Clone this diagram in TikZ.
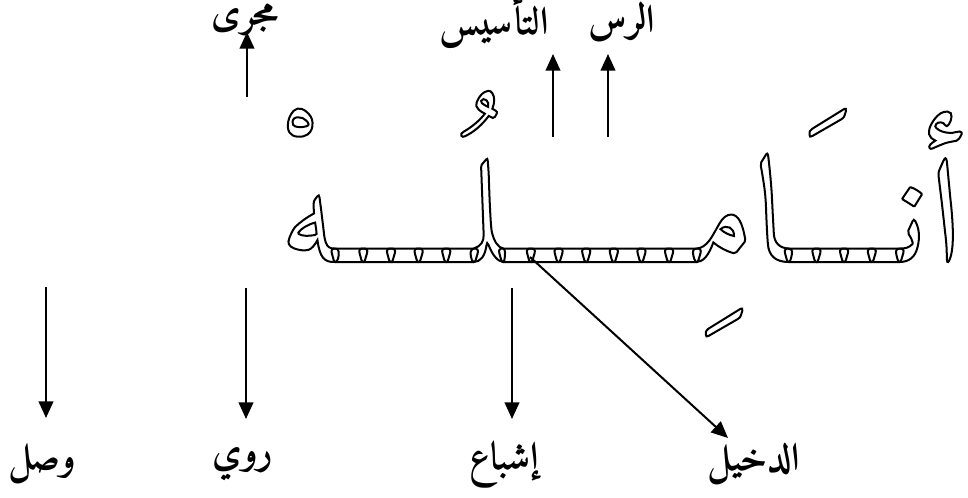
\documentclass[tikz,border=0pt]{standalone}
\usepackage{fontspec}
\usetikzlibrary{arrows.meta}
\TeXXeTstate=1
\newfontfamily\arabicbig[Script=Arabic]{Amiri-Regular.ttf}
\newfontfamily\arabiclabel[Script=Arabic]{Amiri-Bold.ttf}
% stroke glyph outlines instead of filling them
\newcommand\outlineon{\special{pdf:literal direct 1 Tr 1.5 w}}
\newcommand\outlineoff{\special{pdf:literal direct 0 Tr}}
% one kashida, kept as a separate glyph
\newcommand\kash{ـ^^^^200c}
\tikzset{
  termlabel/.style={inner sep=0pt, font=\arabiclabel\fontsize{29}{32}\selectfont},
  pointer/.style={line width=1.5pt, -{Triangle[length=12.5pt,width=11pt]}},
}
\begin{document}
\begin{tikzpicture}[x=0.75pt,y=-0.75pt]
\useasboundingbox (0,0) rectangle (968,497);

% the scanned word, drawn hollow
\node[inner sep=0pt, anchor=base east] (word) at (963,262)
  {\arabicbig\fontsize{112}{120}\selectfont\outlineon\beginR أنـ^^^^200cـَ\kash ـامِ\kash\kash\kash\kash\kash\kash ـلُ\kash\kash\kash\kash ـهْ\endR\outlineoff};

% labels above the word
\node[termlabel] (majra)  at (245,20) {\beginR مجرى\endR};
\node[termlabel] (tasis)  at (494,22) {\beginR التأسيس\endR};
\node[termlabel] (rass)   at (622,22) {\beginR الرس\endR};

% labels below the word
\node[termlabel] (wasl)   at (42,464)  {\beginR وصل\endR};
\node[termlabel] (rawi)   at (243,464) {\beginR روي\endR};
\node[termlabel] (ishba)  at (504,464) {\beginR إشباع\endR};
\node[termlabel] (dakhil) at (754,464) {\beginR الدخيل\endR};

% arrow end points
\coordinate (majra-from) at (247,97);  \coordinate (majra-to) at (247,32);
\coordinate (tasis-from) at (553,137); \coordinate (tasis-to) at (553,54);
\coordinate (rass-from)  at (608,137); \coordinate (rass-to)  at (608,54);
\coordinate (wasl-from)  at (46,287);  \coordinate (wasl-to)  at (46,418);
\coordinate (rawi-from)  at (246,288); \coordinate (rawi-to)  at (246,419);
\coordinate (ishba-from) at (512,288); \coordinate (ishba-to) at (512,419);
\coordinate (dakhil-from) at (530,257); \coordinate (dakhil-to) at (728,438);

\draw[pointer] (majra-from) -- (majra-to);
\draw[pointer] (tasis-from) -- (tasis-to);
\draw[pointer] (rass-from) -- (rass-to);
\draw[pointer] (wasl-from) -- (wasl-to);
\draw[pointer] (rawi-from) -- (rawi-to);
\draw[pointer] (ishba-from) -- (ishba-to);
\draw[pointer] (dakhil-from) -- (dakhil-to);
\end{tikzpicture}
\end{document}
